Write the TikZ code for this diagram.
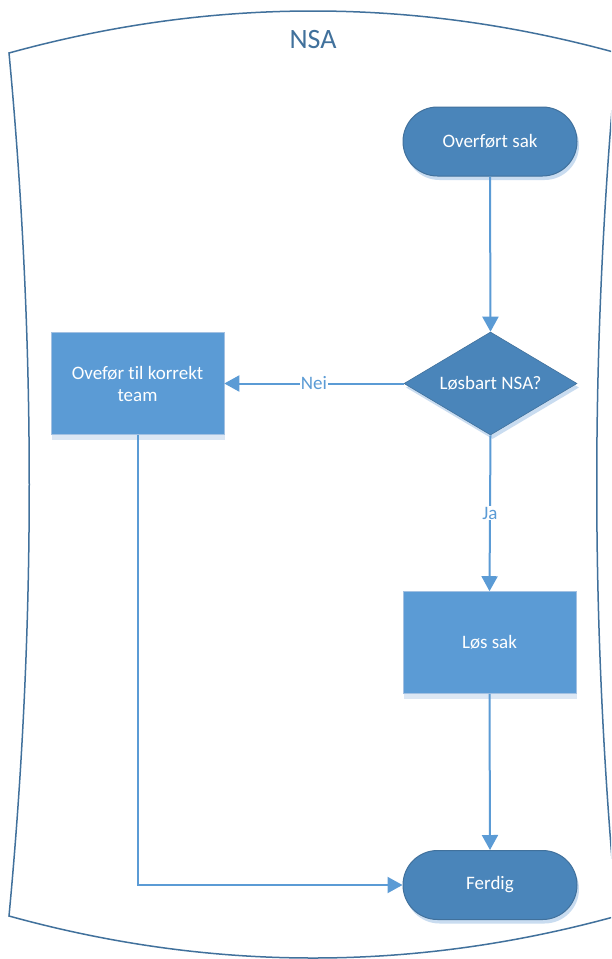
\documentclass[tikz,border=0pt]{standalone}
\usepackage{fontspec}
\setmainfont{Carlito}[Ligatures=NoCommon]
\usetikzlibrary{shapes.geometric,arrows.meta,shadows}
\definecolor{frameblue}{HTML}{41719C}
\definecolor{darkfill}{HTML}{4A85BA}
\definecolor{lightfill}{HTML}{5B9BD5}
\definecolor{boxedge}{HTML}{A3C1E2}
\definecolor{linkblue}{HTML}{5B9BD5}
\definecolor{shadowblue}{HTML}{C9DCF0}
\definecolor{shadowpale}{HTML}{DCE7F4}
\tikzset{
  nodefont/.style={font=\fontsize{19}{22}\selectfont},
  terminal/.style={nodefont, rectangle, rounded corners=34.5pt,
    minimum width=174pt, minimum height=69pt, fill=darkfill,
    draw=frameblue, line width=1pt, text=white,
    drop shadow={shadow xshift=2pt, shadow yshift=-4pt, opacity=1, fill=shadowblue}},
  process/.style={nodefont, rectangle, minimum width=173pt,
    minimum height=102pt, fill=lightfill, draw=boxedge, line width=0.6pt,
    text=white, align=center,
    drop shadow={shadow xshift=1pt, shadow yshift=-5pt, opacity=1, fill=shadowpale}},
  decision/.style={nodefont, diamond, aspect=1.7, inner sep=0pt,
    minimum width=173pt, minimum height=103pt, fill=darkfill,
    draw=frameblue, line width=0.6pt, text=white,
    drop shadow={shadow xshift=2pt, shadow yshift=-4pt, opacity=1, fill=shadowblue}},
  link/.style={draw=linkblue, line width=2pt,
    -{Triangle[length=15pt,width=16pt]}},
  lbl/.style={nodefont, text=linkblue, fill=white, inner sep=1pt},
  container/.style={draw=frameblue, line width=1.5pt, line join=miter},
}
\begin{document}
\begin{tikzpicture}[x=1pt, y=-1pt]
  \clip (0,0) rectangle (611,959);
  \fill[white] (0,0) rectangle (611,959);

  % pool outline: arched top and bottom, pinched sides
  \draw[container]
    (9,53) .. controls (212,-3) and (414,-3) .. (617,53)
    .. controls (590,341) and (590,628) .. (617,916)
    .. controls (414,972) and (212,972) .. (9,916)
    .. controls (36,628) and (36,341) .. cycle;
  \node[text=frameblue, font=\fontsize{28}{34}\selectfont] (title) at (313,40) {NSA};

  % flow nodes
  \node[terminal] (start) at (490,141.5) {Overført sak};
  \node[decision] (check) at (490.5,383.5) {Løsbart NSA?};
  \node[process] (move) at (137.5,383.5) {Ovefør til korrekt\\team};
  \node[process] (solve) at (489.5,642.5) {Løs sak};
  \node[terminal] (done) at (490,885) {Ferdig};

  % connectors
  \draw[link] (start.south) -- (check.north);
  \draw[link] (check.west) -- node[lbl] {Nei} (move.east);
  \draw[link] (check.south) -- node[lbl] {Ja} (solve.north);
  \draw[link] (solve.south) -- (done.north);
  \draw[link] (move.south) |- (done.west);
\end{tikzpicture}
\end{document}
